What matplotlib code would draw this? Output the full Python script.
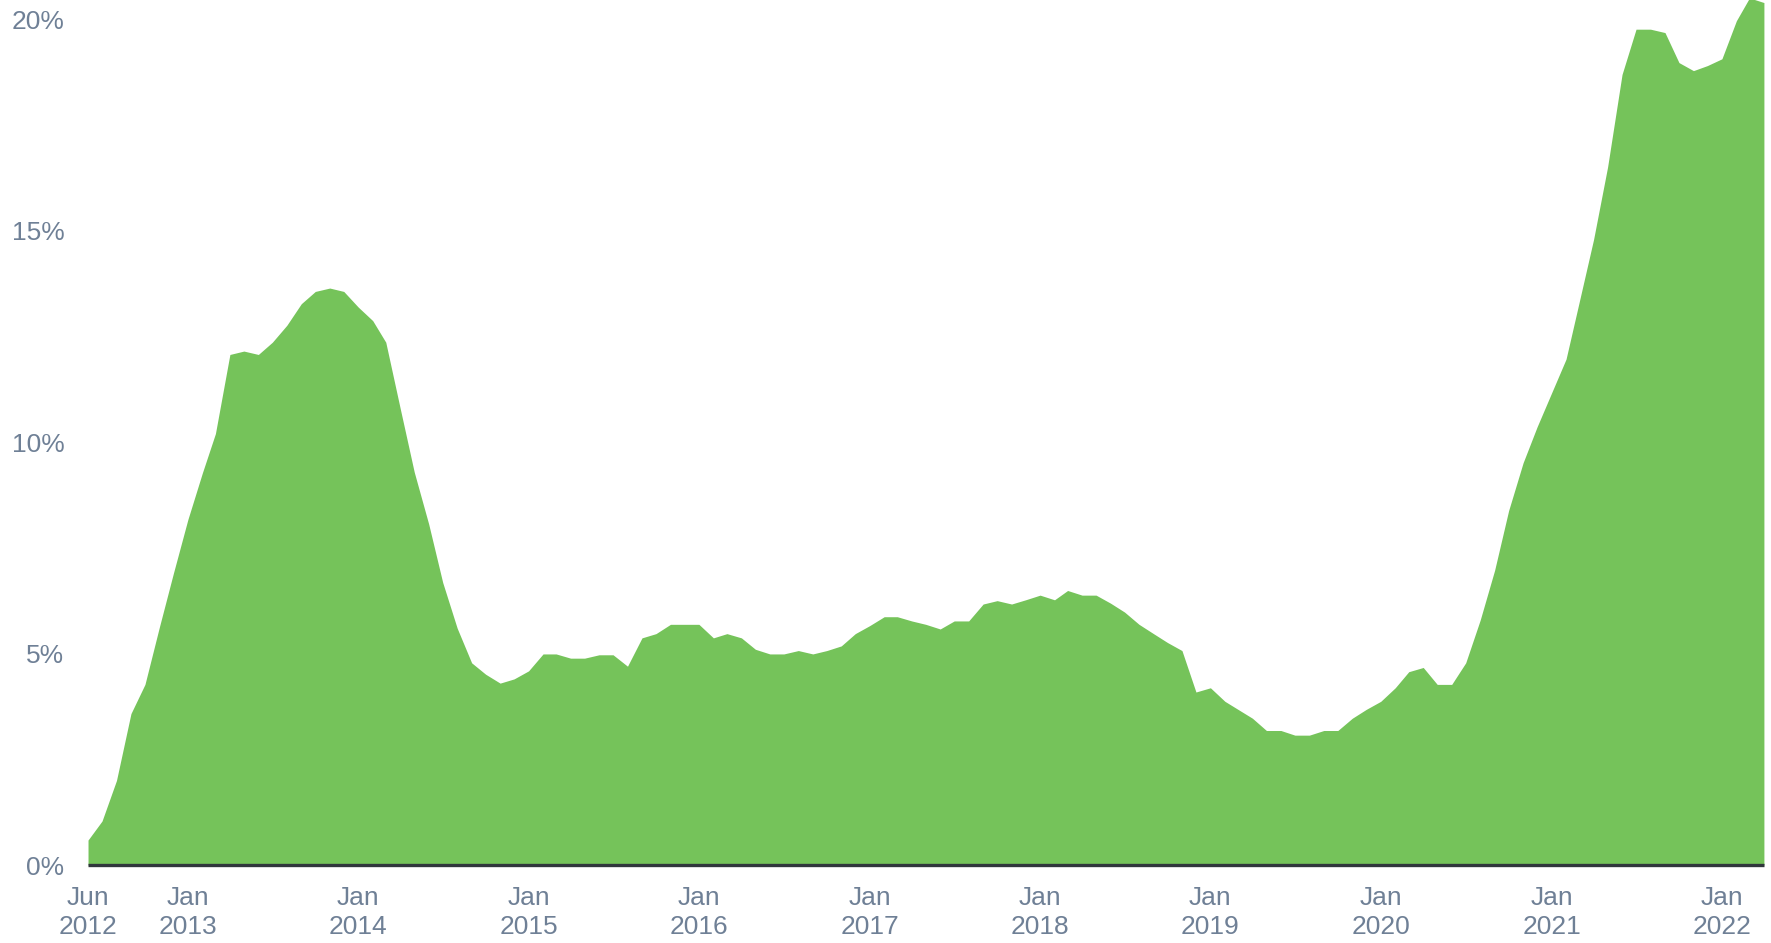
import matplotlib.pyplot as plt
import pandas as pd

# monthly values, Jun 2012 .. Apr 2022 (percent)
start_month = "2012-06-01"
values = [
    0.59, 1.04, 2.0, 3.58, 4.27, 5.63, 6.9,                                  # 2012 Jun-Dec
    8.17, 9.27, 10.2, 12.07, 12.15, 12.07, 12.36, 12.76, 13.27, 13.56, 13.64, 13.56,  # 2013
    13.19, 12.87, 12.36, 10.79, 9.29, 8.06, 6.68, 5.6, 4.78, 4.51, 4.3, 4.4,  # 2014
    4.59, 4.99, 4.99, 4.89, 4.89, 4.97, 4.97, 4.7, 5.37, 5.47, 5.69, 5.69,   # 2015
    5.69, 5.37, 5.47, 5.37, 5.1, 4.99, 4.99, 5.07, 4.99, 5.07, 5.18, 5.47,   # 2016
    5.66, 5.87, 5.87, 5.77, 5.69, 5.58, 5.77, 5.77, 6.17, 6.25, 6.17, 6.27,  # 2017
    6.38, 6.27, 6.49, 6.38, 6.38, 6.19, 5.98, 5.69, 5.47, 5.26, 5.07, 4.09,  # 2018
    4.19, 3.87, 3.68, 3.47, 3.18, 3.18, 3.07, 3.07, 3.18, 3.18, 3.47, 3.68,  # 2019
    3.87, 4.19, 4.57, 4.67, 4.27, 4.27, 4.78, 5.79, 6.97, 8.38, 9.51, 10.36,  # 2020
    11.16, 11.96, 13.3, 14.79, 16.5, 18.69, 19.76, 19.76, 19.68, 18.97, 18.78, 18.9,  # 2021
    19.06, 19.96, 20.5, 20.39,                                               # 2022 Jan-Apr
]
yticks = [0, 5, 10, 15, 20]
xtick_dates = ["2012-06-01"] + [f"{y}-01-01" for y in range(2013, 2023)]

dates = pd.date_range(start_month, periods=len(values), freq="MS")

green = "#75c35a"
text_col = "#6f8096"

fig = plt.figure(figsize=(17.71, 9.43), dpi=100)
ax = fig.add_axes([0.0497, 0.0827, 0.9463, 0.9173])

ax.fill_between(dates, values, 0, color=green, linewidth=0)
ax.axhline(0, color="#30363c", linewidth=2.4, zorder=3, clip_on=False,
           solid_capstyle="butt")

ax.set_xlim(dates[0], dates[-1])
ax.set_ylim(0, 20.45)

for s in ax.spines.values():
    s.set_visible(False)

ax.set_yticks(yticks)
ax.set_yticklabels([f"{t}%" for t in yticks])

xt = pd.to_datetime(xtick_dates)
ax.set_xticks(xt)
ax.set_xticklabels([d.strftime("%b\n%Y") for d in xt], linespacing=1.25)

ax.tick_params(axis="both", length=0, colors=text_col, labelsize=19)
ax.tick_params(axis="x", pad=15)
ax.tick_params(axis="y", pad=17)
for lab in ax.get_xticklabels() + ax.get_yticklabels():
    lab.set_family(["Liberation Sans", "DejaVu Sans"])

fig.savefig("out.png", dpi=100)
